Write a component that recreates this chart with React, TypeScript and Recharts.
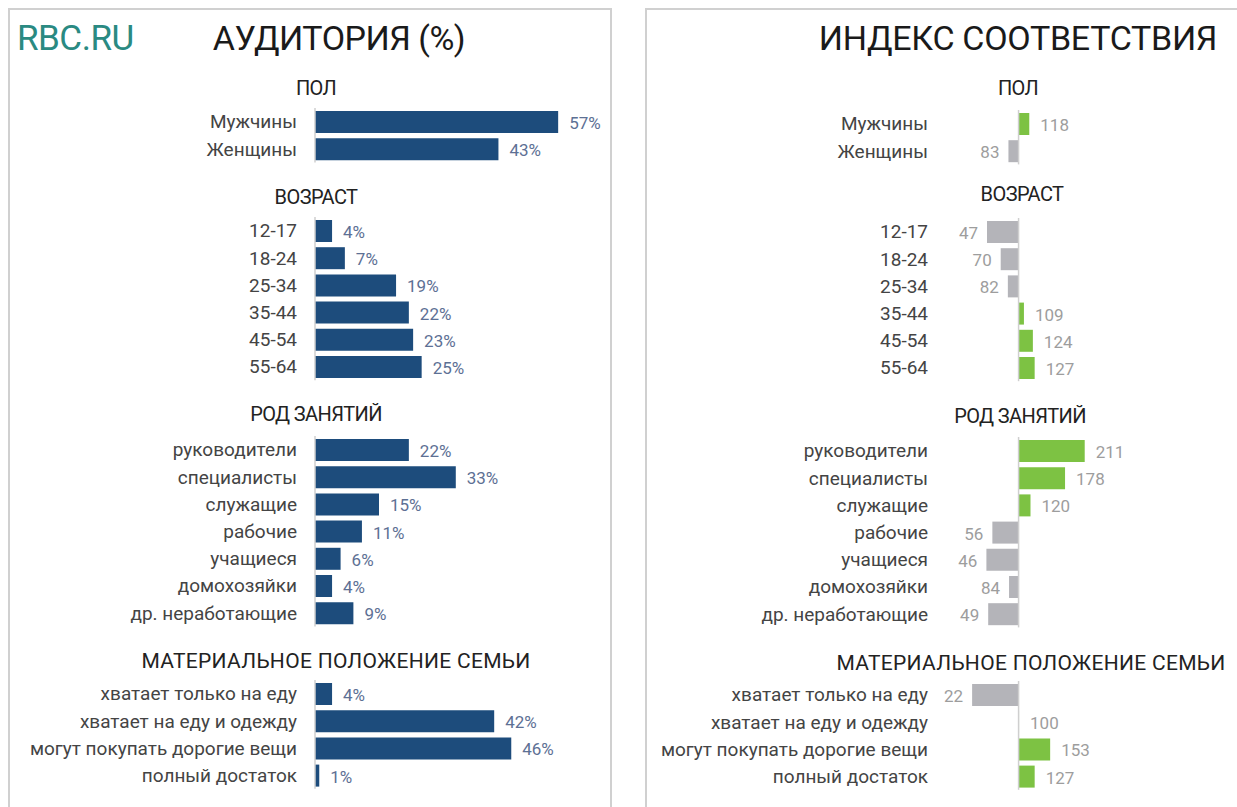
import React from "react";
import { BarChart, Bar, XAxis, YAxis, Cell, LabelList, ReferenceLine } from "recharts";

const sectionTitles = ["ПОЛ", "ВОЗРАСТ", "РОД ЗАНЯТИЙ", "МАТЕРИАЛЬНОЕ ПОЛОЖЕНИЕ СЕМЬИ"];

const genderCats = ["Мужчины", "Женщины"];
const genderShare = [57, 43];
const genderIndex = [118, 83];

const ageCats = ["12-17", "18-24", "25-34", "35-44", "45-54", "55-64"];
const ageShare = [4, 7, 19, 22, 23, 25];
const ageIndex = [47, 70, 82, 109, 124, 127];

const jobCats = [
  "руководители",
  "специалисты",
  "служащие",
  "рабочие",
  "учащиеся",
  "домохозяйки",
  "др. неработающие",
];
const jobShare = [22, 33, 15, 11, 6, 4, 9];
const jobIndex = [211, 178, 120, 56, 46, 84, 49];

const incomeCats = [
  "хватает только на еду",
  "хватает на еду и одежду",
  "могут покупать дорогие вещи",
  "полный достаток",
];
const incomeShare = [4, 42, 46, 1];
const incomeIndex = [22, 100, 153, 127];

const shareDomain = [0, 60];
const indexDomain = [0, 240];
const indexBase = 100;

const FONT = "Roboto, 'Noto Sans', sans-serif";
const BLUE = "#1d4c7c";
const GREEN = "#7dc243";
const GREY = "#b4b4b9";
const ROW = 27.2;

const categories = [genderCats, ageCats, jobCats, incomeCats];
const shares = [genderShare, ageShare, jobShare, incomeShare];
const indexes = [genderIndex, ageIndex, jobIndex, incomeIndex];

// layout of each panel (pixels on the page)
const leftTitleX = [316, 316, 316, 336];
const leftTitleY = [88, 197, 414, 661];
const leftPlotTop = [108.4, 217.4, 436.4, 680.4];
const rightTitleX = [1018, 1022, 1020, 1031];
const rightTitleY = [88, 194, 416, 663];
const rightPlotTop = [110.4, 218.4, 437.4, 681.4];

function ShareLabel(props: any) {
  const x = Number(props.x);
  const y = Number(props.y);
  const w = Number(props.width);
  const h = Number(props.height);
  return (
    <text
      x={x + w + 11}
      y={y + h / 2 + 1}
      dominantBaseline="central"
      fill="#5d7094"
      fontSize={17}
      fontFamily={FONT}
    >
      {`${props.value}%`}
    </text>
  );
}

function IndexLabel(props: any) {
  const x = Number(props.x);
  const y = Number(props.y);
  const w = Number(props.width);
  const h = Number(props.height);
  const v = Array.isArray(props.value) ? props.value[1] : props.value;
  const end = x + w;
  const below = v < indexBase;
  return (
    <text
      x={below ? end - 9 : end + 11}
      y={y + h / 2 + 1}
      dominantBaseline="central"
      textAnchor={below ? "end" : "start"}
      fill="#9d9d9d"
      fontSize={17}
      fontFamily={FONT}
    >
      {v}
    </text>
  );
}

function Title({ x, y, text, wide }: { x: number; y: number; text: string; wide?: boolean }) {
  return (
    <div
      style={{
        position: "absolute",
        left: x,
        top: y,
        transform: "translate(-50%, -50%)",
        fontFamily: FONT,
        fontSize: wide ? 21 : 20,
        color: "#222",
        letterSpacing: wide ? 0.3 : -0.6,
        whiteSpace: "nowrap",
      }}
    >
      {text}
    </div>
  );
}

function ShareSection({ idx }: { idx: number }) {
  const data = categories[idx].map((name, i) => ({ name, value: shares[idx][i] }));
  const h = ROW * data.length;
  return (
    <div style={{ position: "absolute", left: 0, top: leftPlotTop[idx] - 5 }}>
      <BarChart
        layout="vertical"
        width={601}
        height={h + 10}
        data={data}
        margin={{ top: 5, right: 30, bottom: 5, left: 15 }}
        barCategoryGap={0}
      >
        <XAxis type="number" domain={shareDomain} hide />
        <YAxis
          type="category"
          dataKey="name"
          width={300}
          axisLine={false}
          tickLine={false}
          tickSize={0}
          tickMargin={18}
          interval={0}
          tick={{ fill: "#444", fontSize: 19, fontFamily: FONT }}
        />
        <ReferenceLine x={0} stroke="#cfcfcf" strokeWidth={1.5} />
        <Bar dataKey="value" fill={BLUE} barSize={22} isAnimationActive={false}>
          <LabelList dataKey="value" content={<ShareLabel />} />
        </Bar>
      </BarChart>
    </div>
  );
}

function IndexSection({ idx }: { idx: number }) {
  const data = categories[idx].map((name, i) => ({ name, value: indexes[idx][i] }));
  const h = ROW * data.length;
  return (
    <div style={{ position: "absolute", left: 640, top: rightPlotTop[idx] - 5 }}>
      <BarChart
        layout="vertical"
        width={502}
        height={h + 10}
        data={data}
        margin={{ top: 5, right: 40, bottom: 5, left: 0 }}
        barCategoryGap={0}
      >
        <XAxis type="number" domain={indexDomain} hide />
        <YAxis
          type="category"
          dataKey="name"
          width={319}
          axisLine={false}
          tickLine={false}
          tickSize={0}
          tickMargin={31}
          interval={0}
          tick={{ fill: "#444", fontSize: 19, fontFamily: FONT }}
        />
        <ReferenceLine x={indexBase} stroke="#cfcfcf" strokeWidth={1.5} />
        <Bar
          dataKey={(d: any) => [indexBase, d.value]}
          barSize={22}
          minPointSize={0.5}
          isAnimationActive={false}
        >
          {data.map((d, i) => (
            <Cell
              key={i}
              fill={d.value > indexBase ? GREEN : d.value < indexBase ? GREY : "#d6ecc4"}
            />
          ))}
          <LabelList content={<IndexLabel />} />
        </Bar>
      </BarChart>
    </div>
  );
}

export default function App() {
  return (
    <div
      style={{
        position: "absolute",
        left: 0,
        top: 0,
        width: 1237,
        height: 807,
        overflow: "hidden",
        background: "#fff",
        fontFamily: FONT,
      }}
    >
      <div
        style={{
          position: "absolute",
          left: 8,
          top: 8,
          width: 600,
          height: 820,
          border: "2px solid #d0d0d0",
        }}
      />
      <div
        style={{
          position: "absolute",
          left: 645,
          top: 8,
          width: 620,
          height: 820,
          border: "2px solid #d0d0d0",
        }}
      />
      <div
        style={{
          position: "absolute",
          left: 17,
          top: 38,
          transform: "translateY(-50%)",
          fontSize: 35,
          color: "#2a8a82",
          letterSpacing: -0.5,
        }}
      >
        RBC.RU
      </div>
      <div
        style={{
          position: "absolute",
          left: 339,
          top: 38,
          transform: "translate(-50%, -50%)",
          fontSize: 34,
          color: "#1a1a1a",
          letterSpacing: -0.5,
          whiteSpace: "nowrap",
        }}
      >
        АУДИТОРИЯ (%)
      </div>
      <div
        style={{
          position: "absolute",
          left: 1018,
          top: 38,
          transform: "translate(-50%, -50%)",
          fontSize: 34,
          color: "#1a1a1a",
          letterSpacing: -0.3,
          whiteSpace: "nowrap",
        }}
      >
        ИНДЕКС СООТВЕТСТВИЯ
      </div>
      {sectionTitles.map((t, i) => (
        <Title key={"l" + i} x={leftTitleX[i]} y={leftTitleY[i]} text={t} wide={i === 3} />
      ))}
      {sectionTitles.map((t, i) => (
        <Title key={"r" + i} x={rightTitleX[i]} y={rightTitleY[i]} text={t} wide={i === 3} />
      ))}
      {sectionTitles.map((_, i) => (
        <ShareSection key={"s" + i} idx={i} />
      ))}
      {sectionTitles.map((_, i) => (
        <IndexSection key={"x" + i} idx={i} />
      ))}
    </div>
  );
}
